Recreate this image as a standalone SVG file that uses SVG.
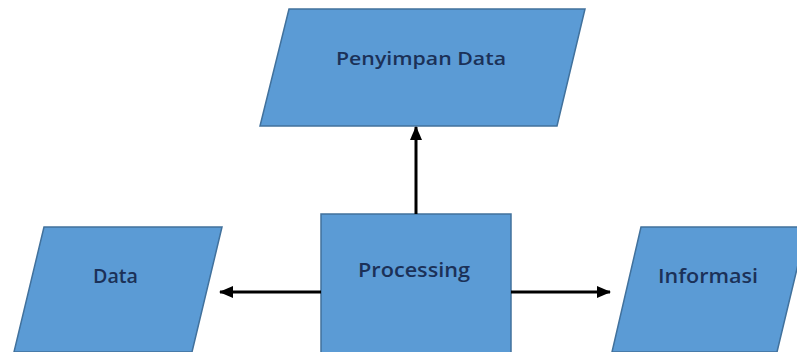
<svg xmlns="http://www.w3.org/2000/svg" width="797" height="352" viewBox="0 0 797 352">
  <style>
    .shape { fill: #5B9BD5; stroke: #41719C; stroke-width: 1.5; }
    .label { font-family: "Open Sans", "Liberation Sans", sans-serif; fill: #1B3158; text-anchor: middle; font-weight: 600; }
    .conn { stroke: #000; stroke-width: 3; fill: none; }
  </style>
  <defs>
    <marker id="arrow" markerUnits="userSpaceOnUse" markerWidth="14" markerHeight="14" viewBox="0 0 14 14" refX="13" refY="7" orient="auto">
      <path d="M0,1 L14,7 L0,13 Z" fill="#000"/>
    </marker>
  </defs>
  <rect width="797" height="352" fill="#ffffff"/>
  <g id="penyimpan-data">
    <polygon class="shape" points="289,9 585,9 557,126 260,126"/>
    <text class="label" x="421" y="65" font-size="18" textLength="170" lengthAdjust="spacingAndGlyphs">Penyimpan Data</text>
  </g>
  <g id="data">
    <polygon class="shape" points="44,227 222,227 192,352 14,352"/>
    <text class="label" x="115.5" y="283" font-size="20" textLength="45" lengthAdjust="spacingAndGlyphs">Data</text>
  </g>
  <g id="processing">
    <rect class="shape" x="321" y="214" width="190" height="142"/>
    <text class="label" x="414" y="277" font-size="20" textLength="112" lengthAdjust="spacingAndGlyphs">Processing</text>
  </g>
  <g id="informasi">
    <polygon class="shape" points="641,227 807,227 777,352 612,352"/>
    <text class="label" x="708" y="283" font-size="20" textLength="100" lengthAdjust="spacingAndGlyphs">Informasi</text>
  </g>
  <g id="connectors">
    <line class="conn" x1="416" y1="214" x2="416" y2="127" marker-end="url(#arrow)"/>
    <line class="conn" x1="321" y1="292" x2="220" y2="292" marker-end="url(#arrow)"/>
    <line class="conn" x1="511" y1="292" x2="610" y2="292" marker-end="url(#arrow)"/>
  </g>
</svg>
